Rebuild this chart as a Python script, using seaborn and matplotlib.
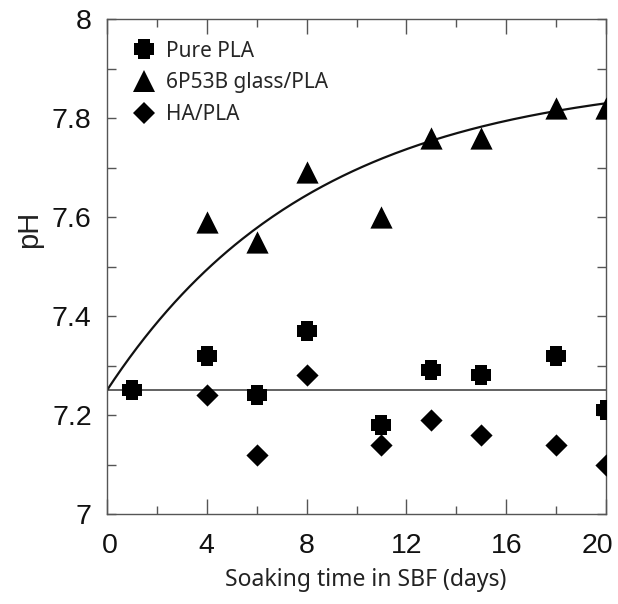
import numpy as np
import pandas as pd
import matplotlib
matplotlib.use("Agg")
import matplotlib.pyplot as plt
import matplotlib.transforms as mtransforms
from matplotlib.path import Path
from matplotlib.lines import Line2D
import seaborn as sns

# pH of the SBF during soaking, per sample type
pla_days = [1, 4, 6, 8, 11, 13, 15, 18, 20]
pla_ph = [7.25, 7.32, 7.24, 7.37, 7.18, 7.29, 7.28, 7.32, 7.21]

glass_days = [4, 6, 8, 11, 13, 15, 18, 20]
glass_ph = [7.59, 7.55, 7.69, 7.60, 7.76, 7.76, 7.82, 7.82]

ha_days = [4, 6, 8, 11, 13, 15, 18, 20]
ha_ph = [7.24, 7.12, 7.28, 7.14, 7.19, 7.16, 7.14, 7.10]

series_names = ["Pure PLA", "6P53B glass/PLA", "HA/PLA"]

# initial pH of the SBF
ph_start = 7.25

# rise-to-plateau trend for the glass composite: ph_start + amp * (1 - exp(-t / tau))
trend_amp = 0.637
trend_tau = 8.3

x_ticks = [0, 4, 8, 12, 16, 20]
y_ticks = [7, 7.2, 7.4, 7.6, 7.8, 8]
y_tick_labels = ["7", "7.2", "7.4", "7.6", "7.8", "8"]

trend_x = np.linspace(0, 20, 200)
trend_df = pd.DataFrame({"day": trend_x,
                         "ph": ph_start + trend_amp * (1 - np.exp(-trend_x / trend_tau))})

# fat plus marker
a, b = 0.27, 0.5
plus_path = Path([(-a, b), (a, b), (a, a), (b, a), (b, -a), (a, -a), (a, -b),
                  (-a, -b), (-a, -a), (-b, -a), (-b, a), (-a, a), (-a, b)],
                 [Path.MOVETO] + [Path.LINETO] * 11 + [Path.CLOSEPOLY])

sns.set_style("ticks")
plt.rcParams["font.family"] = ["Liberation Sans", "DejaVu Sans"]

fig = plt.figure(figsize=(6.18, 6.04), dpi=100)
ax = fig.add_axes([107 / 618, 90 / 604, 499 / 618, 495 / 604])

line_col = "#555555"
ax.axhline(ph_start, color=line_col, lw=1.3, zorder=1)
sns.lineplot(data=trend_df, x="day", y="ph", ax=ax, color="#111111", lw=1.6, zorder=2)

pla_df = pd.DataFrame({"day": pla_days, "ph": pla_ph})
glass_df = pd.DataFrame({"day": glass_days, "ph": glass_ph})
ha_df = pd.DataFrame({"day": ha_days, "ph": ha_ph})

sns.scatterplot(data=pla_df, x="day", y="ph", ax=ax, marker=plus_path, s=15 ** 2,
                color="black", edgecolor="black", linewidth=0, zorder=3)
sns.scatterplot(data=glass_df, x="day", y="ph", ax=ax, marker="^", s=16 ** 2,
                color="black", edgecolor="black", linewidth=0, zorder=3)
sns.scatterplot(data=ha_df, x="day", y="ph", ax=ax, marker="D", s=11.3 ** 2,
                color="black", edgecolor="black", linewidth=0, zorder=3)

ax.set_xlim(0, 20)
ax.set_ylim(7, 8)
ax.set_xticks(x_ticks)
ax.set_xticks([2, 6, 10, 14, 18], minor=True)
ax.set_yticks(y_ticks)
ax.set_yticklabels(y_tick_labels)
ax.set_yticks([7.1, 7.3, 7.5, 7.7, 7.9], minor=True)

for s in ax.spines.values():
    s.set_color(line_col)
    s.set_linewidth(1.0)

ax.tick_params(axis="both", which="both", direction="in", top=True, right=True,
               color=line_col, width=1.0, labelsize=20.5, labelcolor="#111111")
ax.tick_params(axis="x", which="major", length=11, pad=14)
ax.tick_params(axis="x", which="minor", length=6)
ax.tick_params(axis="y", which="both", length=6.5, pad=11)

# nudge the end labels of the day axis inward
xlabels = ax.get_xticklabels()
xlabels[0].set_transform(xlabels[0].get_transform() +
                         mtransforms.ScaledTranslation(3 / 100, 0, fig.dpi_scale_trans))
xlabels[-1].set_transform(xlabels[-1].get_transform() +
                          mtransforms.ScaledTranslation(-9 / 100, 0, fig.dpi_scale_trans))

ax.set_xlabel("Soaking time in SBF (days)", fontsize=16.5, family=["Noto Sans", "DejaVu Sans"],
              color="#222222")
ax.xaxis.set_label_coords(0.519, -0.133)
ax.xaxis.label.set_va("center")
ax.set_ylabel("pH", fontsize=21, color="#222222")
ax.yaxis.set_label_coords(-0.156, 0.574)
ax.yaxis.label.set_va("center")

handles = [
    Line2D([], [], ls="none", marker=plus_path, ms=15, color="black", mew=0),
    Line2D([], [], ls="none", marker="^", ms=16, color="black", mew=0),
    Line2D([], [], ls="none", marker="D", ms=11.5, color="black", mew=0),
]
leg = ax.legend(handles, series_names, loc="upper left", bbox_to_anchor=(0.02, 0.99),
                frameon=False, handlelength=1.0, handletextpad=0.55, labelspacing=0.52,
                borderpad=0.3, prop={"family": ["Noto Sans", "DejaVu Sans"], "size": 15})

fig.savefig("out.png", dpi=100)
